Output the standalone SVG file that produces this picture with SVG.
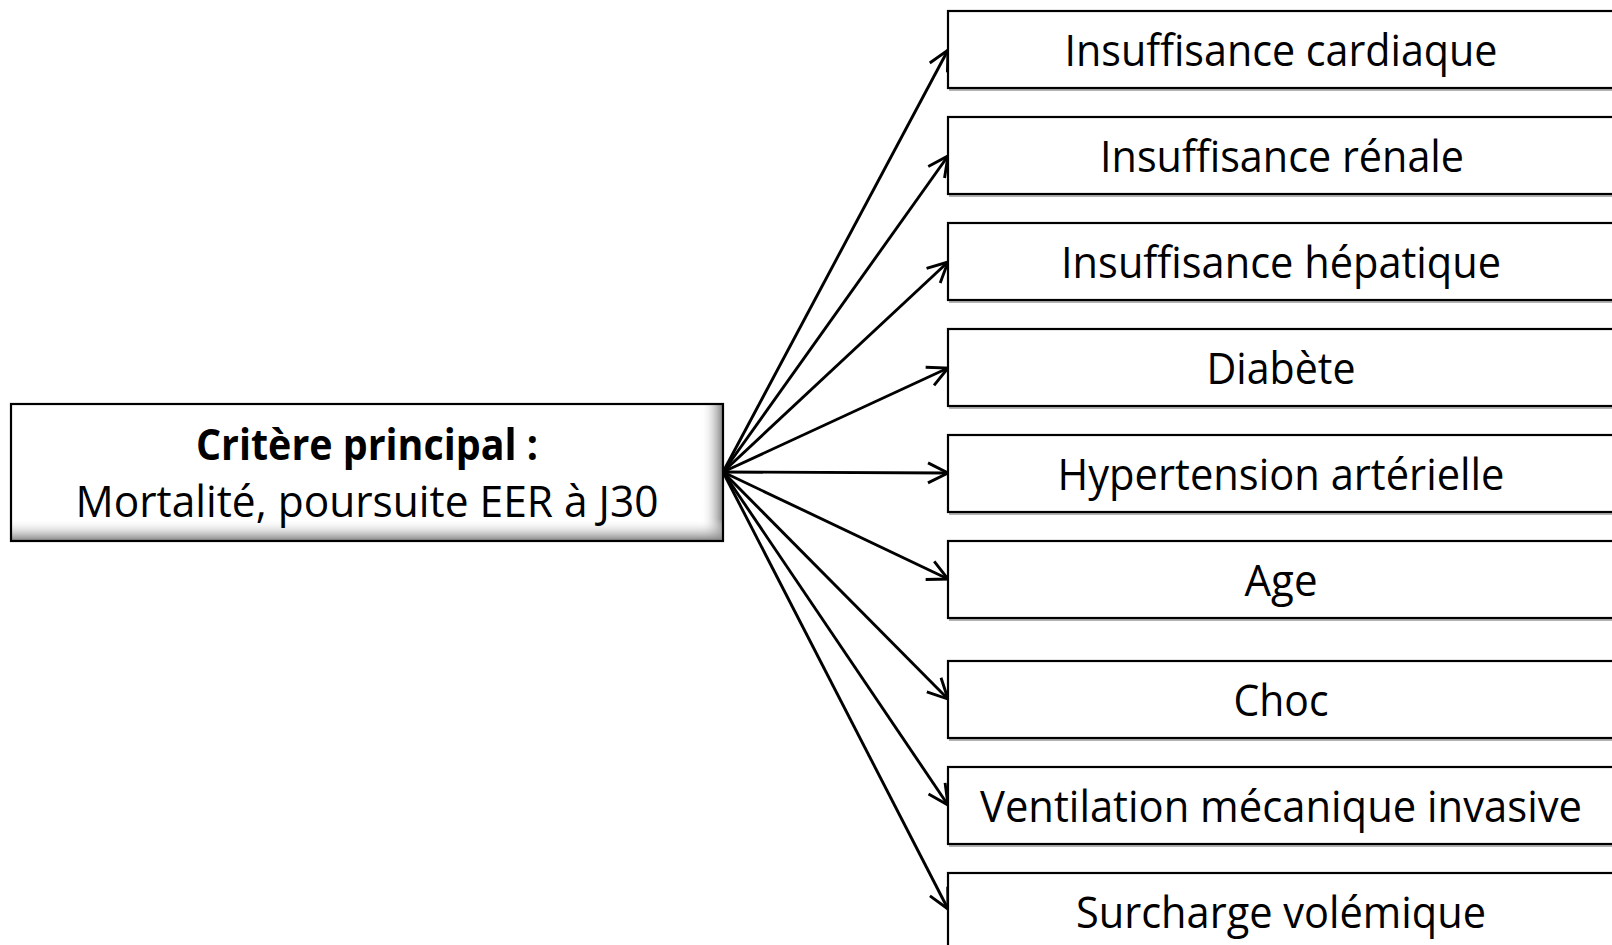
<svg xmlns="http://www.w3.org/2000/svg" width="1612" height="945" viewBox="0 0 1612 945">
<style>
.box{fill:#fff;stroke:#000;stroke-width:2.2}
.shadow{fill:none;stroke:#9a9a9a;stroke-width:1.5}
.lbl{font-family:"Open Sans","Noto Sans","Liberation Sans",sans-serif;font-size:43px;fill:#000;text-anchor:middle}
.bold{font-weight:bold}
.conn{stroke:#000;stroke-width:2.9;fill:none}
</style>
<defs>
<marker id="arr" markerUnits="userSpaceOnUse" markerWidth="24" markerHeight="24" refX="20" refY="10" orient="auto" overflow="visible">
<path d="M0,0 L20,10 L0,20" fill="none" stroke="#000" stroke-width="2.9" stroke-linejoin="miter"/>
</marker>
<linearGradient id="gr" x1="0" y1="0" x2="1" y2="0">
<stop offset="0" stop-color="#fff" stop-opacity="0"/>
<stop offset="1" stop-color="#808080"/>
</linearGradient>
<linearGradient id="gb" x1="0" y1="0" x2="0" y2="1">
<stop offset="0" stop-color="#fff" stop-opacity="0"/>
<stop offset="1" stop-color="#808080"/>
</linearGradient>
</defs>

<g id="connectors">
<line class="conn" x1="723" y1="472" x2="948" y2="50" marker-end="url(#arr)"/>
<line class="conn" x1="723" y1="472" x2="948" y2="156" marker-end="url(#arr)"/>
<line class="conn" x1="723" y1="472" x2="948" y2="262" marker-end="url(#arr)"/>
<line class="conn" x1="723" y1="472" x2="948" y2="368" marker-end="url(#arr)"/>
<line class="conn" x1="723" y1="472" x2="948" y2="473" marker-end="url(#arr)"/>
<line class="conn" x1="723" y1="472" x2="948" y2="579" marker-end="url(#arr)"/>
<line class="conn" x1="723" y1="472" x2="948" y2="699" marker-end="url(#arr)"/>
<line class="conn" x1="723" y1="472" x2="948" y2="805" marker-end="url(#arr)"/>
<line class="conn" x1="723" y1="472" x2="948" y2="909" marker-end="url(#arr)"/>
</g>

<g id="main">
<rect x="11" y="404" width="712" height="137" fill="#fff"/>
<rect x="701" y="404" width="22" height="137" fill="url(#gr)"/>
<rect x="11" y="519" width="712" height="22" fill="url(#gb)"/>
<rect x="11" y="404" width="712" height="137" fill="none" stroke="#000" stroke-width="2.2"/>
<text class="lbl bold" x="367" y="460" textLength="342" lengthAdjust="spacingAndGlyphs">Critère principal :</text>
<text class="lbl" x="367" y="517" textLength="583" lengthAdjust="spacingAndGlyphs">Mortalité, poursuite EER à J30</text>
</g>

<g id="n1">
<line class="shadow" x1="949" y1="90" x2="1612" y2="90"/>
<rect class="box" x="948" y="11" width="690" height="77"/>
<text class="lbl" x="1281" y="66" textLength="433" lengthAdjust="spacingAndGlyphs">Insuffisance cardiaque</text>
</g>
<g id="n2">
<line class="shadow" x1="949" y1="196" x2="1612" y2="196"/>
<rect class="box" x="948" y="117" width="690" height="77"/>
<text class="lbl" x="1282" y="172" textLength="364" lengthAdjust="spacingAndGlyphs">Insuffisance rénale</text>
</g>
<g id="n3">
<line class="shadow" x1="949" y1="302" x2="1612" y2="302"/>
<rect class="box" x="948" y="223" width="690" height="77"/>
<text class="lbl" x="1281" y="278" textLength="440" lengthAdjust="spacingAndGlyphs">Insuffisance hépatique</text>
</g>
<g id="n4">
<line class="shadow" x1="949" y1="408" x2="1612" y2="408"/>
<rect class="box" x="948" y="329" width="690" height="77"/>
<text class="lbl" x="1281" y="384" textLength="149" lengthAdjust="spacingAndGlyphs">Diabète</text>
</g>
<g id="n5">
<line class="shadow" x1="949" y1="514" x2="1612" y2="514"/>
<rect class="box" x="948" y="435" width="690" height="77"/>
<text class="lbl" x="1281" y="490" textLength="447" lengthAdjust="spacingAndGlyphs">Hypertension artérielle</text>
</g>
<g id="n6">
<line class="shadow" x1="949" y1="620" x2="1612" y2="620"/>
<rect class="box" x="948" y="541" width="690" height="77"/>
<text class="lbl" x="1281" y="596" textLength="73" lengthAdjust="spacingAndGlyphs">Age</text>
</g>
<g id="n7">
<line class="shadow" x1="949" y1="740" x2="1612" y2="740"/>
<rect class="box" x="948" y="661" width="690" height="77"/>
<text class="lbl" x="1281" y="716" textLength="95" lengthAdjust="spacingAndGlyphs">Choc</text>
</g>
<g id="n8">
<line class="shadow" x1="949" y1="846" x2="1612" y2="846"/>
<rect class="box" x="948" y="767" width="690" height="77"/>
<text class="lbl" x="1281" y="822" textLength="602" lengthAdjust="spacingAndGlyphs">Ventilation mécanique invasive</text>
</g>
<g id="n9">
<rect class="box" x="948" y="873" width="690" height="77"/>
<text class="lbl" x="1281" y="928" textLength="410" lengthAdjust="spacingAndGlyphs">Surcharge volémique</text>
</g>
</svg>
